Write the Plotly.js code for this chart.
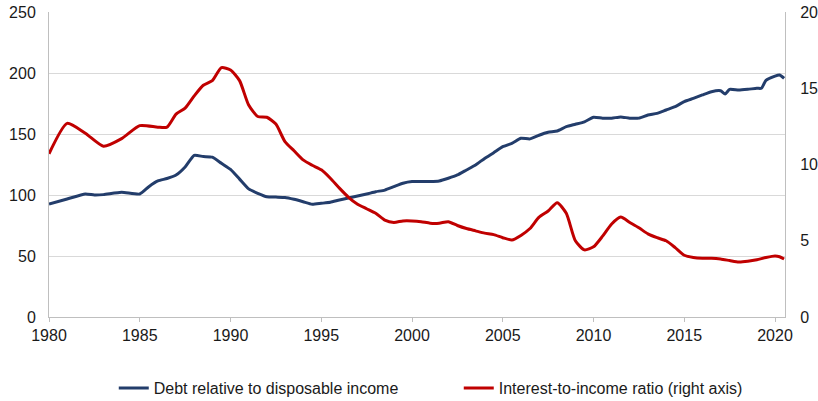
<!DOCTYPE html>
<html>
<head>
<meta charset="utf-8">
<script src="https://cdn.plot.ly/plotly-3.0.1.min.js"></script>
<style>html,body{margin:0;padding:0;background:#fff;}#chart{width:818px;height:401px;}</style>
</head>
<body>
<div id="chart"></div>
<script>
const debtYears = [1980,1981,1982,1982.5,1983,1984,1985,1985.5,1986,1986.5,1987,1987.5,1988,1988.5,1989,1989.5,1990,1990.5,1991,1991.5,1992,1992.5,1993,1993.5,1994,1994.5,1995,1995.5,1996,1996.5,1997,1997.5,1998,1998.5,1999,1999.5,2000,2000.5,2001,2001.5,2002,2002.5,2003,2003.5,2004,2004.5,2005,2005.5,2006,2006.5,2007,2007.5,2008,2008.5,2009,2009.5,2010,2010.5,2011,2011.5,2012,2012.5,2013,2013.5,2014,2014.5,2015,2015.5,2016,2016.5,2017,2017.25,2017.5,2018,2018.5,2019,2019.25,2019.5,2020,2020.25,2020.5];
const debtValues = [92.6,96.7,100.8,100,100.3,102.2,100.8,106.8,111.5,113.5,116.4,123,132.5,131.5,131,126,121,113,105,101.4,98.6,98.3,98,96.5,94.5,92.4,93.2,94,95.9,97.5,99.2,100.8,102.7,104,106.8,109.6,111,111,111,111.5,113.7,116.4,120.5,124.6,130,134.7,139.6,142.3,146.5,146,149,151.4,152.5,156,158,160,163.7,163,163,164,163,163,165.6,166.9,169.7,172.4,176.5,179.2,182,184.7,185.5,182.8,186.6,186,186.6,187.5,187.5,194,197.5,198.4,195.7];

const rateYears = [1980,1981,1982,1983,1984,1985,1986,1986.5,1987,1987.5,1988,1988.5,1989,1989.5,1990,1990.5,1991,1991.5,1992,1992.5,1993,1993.5,1994,1994.5,1995,1995.5,1996,1996.5,1997,1997.5,1998,1998.5,1999,1999.5,2000,2000.5,2001,2001.5,2002,2002.5,2003,2003.5,2004,2004.5,2005,2005.5,2006,2006.5,2007,2007.5,2008,2008.5,2009,2009.5,2010,2010.5,2011,2011.5,2012,2012.5,2013,2013.5,2014,2014.5,2015,2015.5,2016,2016.5,2017,2017.5,2018,2018.5,2019,2019.5,2020,2020.25,2020.5];
const rateValues = [10.7,12.7,12.05,11.2,11.7,12.55,12.45,12.45,13.3,13.7,14.5,15.2,15.5,16.35,16.2,15.5,13.9,13.15,13.1,12.65,11.5,10.9,10.3,9.95,9.65,9.1,8.45,7.85,7.4,7.1,6.8,6.35,6.2,6.3,6.3,6.25,6.15,6.15,6.25,6.0,5.8,5.65,5.5,5.4,5.2,5.05,5.35,5.8,6.55,6.95,7.5,6.8,5.0,4.4,4.6,5.3,6.1,6.55,6.2,5.85,5.45,5.2,5.0,4.55,4.05,3.9,3.85,3.85,3.8,3.7,3.6,3.65,3.75,3.9,4.0,3.95,3.8];

const xTicks = [1980,1985,1990,1995,2000,2005,2010,2015,2020];
const leftTicks = [0,50,100,150,200,250];
const rightTicks = [0,5,10,15,20];

const seriesNames = ['Debt relative to disposable income','Interest-to-income ratio (right axis)'];

const traces = [
  {x: debtYears, y: debtValues, name: seriesNames[0], type: 'scatter', mode: 'lines',
   line: {color: '#233D6B', width: 3, shape: 'spline', smoothing: 0.5}, yaxis: 'y'},
  {x: rateYears, y: rateValues, name: seriesNames[1], type: 'scatter', mode: 'lines',
   line: {color: '#C00000', width: 3, shape: 'spline', smoothing: 0.6}, yaxis: 'y2'}
];

const font = {family: '"Liberation Sans", Arial, sans-serif', size: 16, color: '#1a1a1a'};

const layout = {
  width: 818, height: 401,
  margin: {l: 49, r: 33, t: 12, b: 84},
  paper_bgcolor: '#fff', plot_bgcolor: '#fff',
  font: font,
  showlegend: true,
  legend: {orientation: 'h', x: 0.088, xanchor: 'left', xref: 'paper',
    y: 0.032, yanchor: 'middle', yref: 'container',
    font: font, itemwidth: 30, tracegroupgap: 0, entrywidth: 300, borderwidth: 0, bgcolor: 'rgba(0,0,0,0)'},
  xaxis: {range: [1980, 2020.55], tickvals: xTicks, ticktext: xTicks.map(String),
    showgrid: false, zeroline: false, showline: true, linecolor: '#bfbfbf', linewidth: 1,
    ticks: 'outside', ticklen: 4, tickcolor: '#bfbfbf', tickfont: font},
  yaxis: {range: [0, 250], tickvals: leftTicks, ticktext: leftTicks.map(String),
    showgrid: true, gridcolor: '#d9d9d9', gridwidth: 1, zeroline: false,
    showline: true, linecolor: '#bfbfbf', linewidth: 1, ticks: '', tickfont: font, ticklabelstandoff: 9},
  yaxis2: {range: [0, 20], tickvals: rightTicks, ticktext: rightTicks.map(String),
    overlaying: 'y', side: 'right', showgrid: false, zeroline: false,
    showline: true, linecolor: '#bfbfbf', linewidth: 1, ticks: '', tickfont: font, ticklabelstandoff: 11}
};

Plotly.newPlot('chart', traces, layout, {displayModeBar: false, staticPlot: true});
</script>
</body>
</html>
